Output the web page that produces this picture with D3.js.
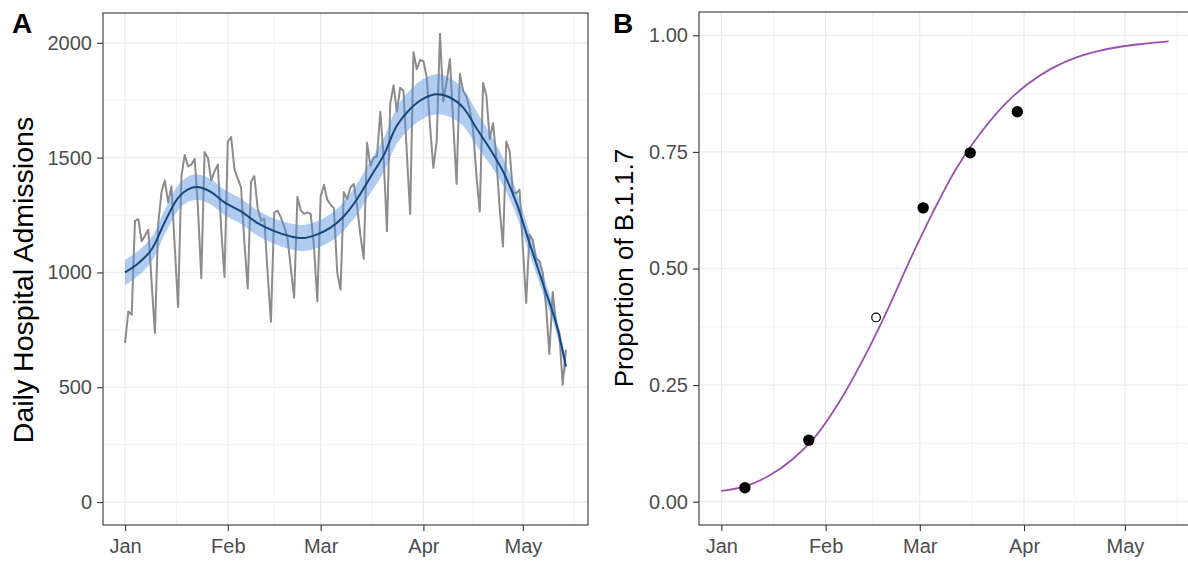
<!DOCTYPE html>
<html>
<head>
<meta charset="utf-8">
<script src="https://cdn.jsdelivr.net/npm/d3@7"></script>
<style>
  body { margin: 0; background: #fff; }
  svg { display: block; font-family: "Liberation Sans", Arial, Helvetica, sans-serif; }
</style>
</head>
<body>
<svg id="chart" width="1188" height="562"></svg>
<script>
// Panel A: daily hospital admissions, one value per day starting 1 Jan 2021
const startDate = "2021-01-01";
const admissions = [
  693, 830, 816, 1225, 1232, 1135, 1160, 1186, 960, 736,
  1210, 1350, 1400, 1305, 1375, 1110, 850, 1418, 1512, 1462,
  1470, 1495, 1280, 975, 1525, 1500, 1400, 1440, 1470, 1190,
  980, 1570, 1590, 1450, 1410, 1370, 1130, 930, 1395, 1420,
  1280, 1225, 1235, 1000, 785, 1260, 1270, 1240, 1200, 1150,
  1020, 890, 1330, 1270, 1255, 1262, 1255, 1110, 875, 1330,
  1382, 1317, 1295, 1280, 1000, 925, 1350, 1320, 1370, 1385,
  1290, 1160, 1060, 1565, 1465, 1500, 1505, 1700, 1500, 1180,
  1735, 1815, 1700, 1805, 1790, 1520, 1255, 1960, 1885, 1925,
  1920, 1850, 1640, 1455, 1570, 2040, 1745, 1830, 1930, 1650,
  1385, 1865, 1790, 1765, 1710, 1620, 1420, 1265, 1825, 1770,
  1580, 1650, 1500, 1280, 1113, 1570, 1530, 1350, 1345, 1360,
  1110, 867, 1165, 1140, 1060, 1050, 1000, 850, 645, 915,
  780, 737, 511, 664
];

// smoothed trend with its confidence band (day offsets from startDate)
const smoothDays = [0, 4, 8, 12, 16, 19, 22, 26, 30, 35, 40, 45, 50, 54, 58, 62, 66, 70, 74, 78, 82, 86, 90, 94, 98, 102, 106, 110, 114, 118, 122, 126, 130, 133];
const smoothFit = [1000, 1040, 1100, 1220, 1325, 1362, 1372, 1350, 1305, 1266, 1215, 1180, 1157, 1150, 1166, 1195, 1245, 1320, 1415, 1510, 1640, 1712, 1757, 1776, 1762, 1718, 1628, 1540, 1440, 1305, 1128, 954, 780, 591];
const smoothLo = [945, 986, 1047, 1166, 1270, 1307, 1317, 1295, 1250, 1211, 1160, 1125, 1101, 1093, 1108, 1135, 1183, 1254, 1345, 1436, 1560, 1628, 1671, 1689, 1677, 1638, 1553, 1472, 1380, 1251, 1080, 912, 744, 561];
const smoothHi = [1055, 1094, 1153, 1274, 1380, 1417, 1427, 1405, 1360, 1321, 1270, 1235, 1213, 1207, 1224, 1255, 1307, 1386, 1485, 1584, 1720, 1796, 1843, 1863, 1847, 1798, 1703, 1608, 1500, 1359, 1176, 996, 816, 621];

// Panel B: sampled proportion of B.1.1.7 and fitted logistic curve
const seqDates = ["2021-01-08", "2021-01-27", "2021-02-16", "2021-03-02", "2021-03-16", "2021-03-30"];
const seqProp = [0.030, 0.132, 0.395, 0.630, 0.748, 0.836];
const seqFilled = [true, true, false, true, true, true];
const curveDays = [0, 7, 14, 21, 28, 35, 42, 49, 56, 63, 70, 77, 84, 91, 98, 105, 112, 119, 126, 133];
const curveProp = [0.023, 0.033, 0.055, 0.09, 0.14, 0.213, 0.303, 0.405, 0.517, 0.622, 0.716, 0.79, 0.85, 0.895, 0.928, 0.951, 0.966, 0.976, 0.982, 0.987];

const monthTicks = ["2021-01-01", "2021-02-01", "2021-03-01", "2021-04-01", "2021-05-01"];
const monthMinor = ["2021-01-16T12:00", "2021-02-15", "2021-03-16T12:00", "2021-04-16", "2021-05-16T12:00"];
const ticksA = [0, 500, 1000, 1500, 2000];
const minorA = [250, 750, 1250, 1750];
const ticksB = [0, 0.25, 0.5, 0.75, 1];
const minorB = [0.125, 0.375, 0.625, 0.875];

const parse = s => new Date(s + (s.length > 10 ? "Z" : "T00:00Z"));
const t0 = parse(startDate);
const dayDate = d => new Date(t0.getTime() + d * 864e5);

const svg = d3.select("#chart");
const gridCol = "#ebebeb";
const textCol = "#4d4d4d";
const frameCol = "#333333";

// ggplot-like 5% expansion of the date range
const dateExtent = [dayDate(0), dayDate(admissions.length - 1)];
const span = dateExtent[1] - dateExtent[0];
const xDomain = [new Date(+dateExtent[0] - span * 0.05), new Date(+dateExtent[1] + span * 0.05)];

function panel(box, y, yTicks, yMinor, yFmt, title, tag) {
  const x = d3.scaleUtc().domain(xDomain).range([box.left, box.right]);
  const g = svg.append("g");

  // minor + major grid
  g.selectAll("line.minx").data(monthMinor.map(parse)).join("line")
    .attr("x1", d => x(d)).attr("x2", d => x(d))
    .attr("y1", box.top).attr("y2", box.bottom)
    .attr("stroke", gridCol).attr("stroke-width", 0.6);
  g.selectAll("line.miny").data(yMinor).join("line")
    .attr("x1", box.left).attr("x2", box.right)
    .attr("y1", d => y(d)).attr("y2", d => y(d))
    .attr("stroke", gridCol).attr("stroke-width", 0.6);
  g.selectAll("line.majx").data(monthTicks.map(parse)).join("line")
    .attr("x1", d => x(d)).attr("x2", d => x(d))
    .attr("y1", box.top).attr("y2", box.bottom)
    .attr("stroke", gridCol).attr("stroke-width", 1.2);
  g.selectAll("line.majy").data(yTicks).join("line")
    .attr("x1", box.left).attr("x2", box.right)
    .attr("y1", d => y(d)).attr("y2", d => y(d))
    .attr("stroke", gridCol).attr("stroke-width", 1.2);

  // axes
  const xAxis = d3.axisBottom(x).tickValues(monthTicks.map(parse))
    .tickFormat(d3.utcFormat("%b")).tickSize(6).tickPadding(8);
  const gx = svg.append("g").attr("transform", `translate(0,${box.bottom})`).call(xAxis);
  const yAxis = d3.axisLeft(y).tickValues(yTicks).tickFormat(yFmt).tickSize(6).tickPadding(5);
  const gy = svg.append("g").attr("transform", `translate(${box.left},0)`).call(yAxis);
  [gx, gy].forEach(a => {
    a.select(".domain").remove();
    a.selectAll(".tick line").attr("stroke", frameCol).attr("stroke-width", 1.1);
    a.selectAll(".tick text").attr("fill", textCol).style("font-size", "20px");
  });

  svg.append("text")
    .attr("transform", `translate(${box.titleX},${box.titleY}) rotate(-90)`)
    .attr("text-anchor", "middle")
    .style("font-size", box.titleSize + "px").attr("fill", "#000")
    .text(title);
  svg.append("text")
    .attr("x", box.tagX).attr("y", 33)
    .style("font-size", "28px").style("font-weight", "bold")
    .text(tag);

  return { x, g };
}

function frame(box) {
  svg.append("rect")
    .attr("x", box.left).attr("y", box.top)
    .attr("width", box.right - box.left).attr("height", box.bottom - box.top)
    .attr("fill", "none").attr("stroke", frameCol).attr("stroke-width", 1.1);
}

// ---- Panel A ----
const boxA = { left: 103, right: 588, top: 13, bottom: 525, titleX: 33, titleY: 280, titleSize: 28.5, tagX: 12 };
const yA = d3.scaleLinear().domain([-100, 2130]).range([boxA.bottom, boxA.top]);
const pA = panel(boxA, yA, ticksA, minorA, d3.format("d"), "Daily Hospital Admissions", "A");
const xA = pA.x;

pA.g.append("path")
  .datum(admissions)
  .attr("fill", "none").attr("stroke", "#8c8c8c").attr("stroke-width", 2)
  .attr("stroke-linejoin", "round")
  .attr("d", d3.line().x((d, i) => xA(dayDate(i))).y(d => yA(d)));

pA.g.append("path")
  .datum(smoothDays.map((d, i) => ({ d, lo: smoothLo[i], hi: smoothHi[i] })))
  .attr("fill", "#4f8de0").attr("fill-opacity", 0.45)
  .attr("d", d3.area().curve(d3.curveCatmullRom)
    .x(p => xA(dayDate(p.d))).y0(p => yA(p.lo)).y1(p => yA(p.hi)));

pA.g.append("path")
  .datum(smoothDays.map((d, i) => ({ d, v: smoothFit[i] })))
  .attr("fill", "none").attr("stroke", "#17467c").attr("stroke-width", 2)
  .attr("d", d3.line().curve(d3.curveCatmullRom)
    .x(p => xA(dayDate(p.d))).y(p => yA(p.v)));
frame(boxA);

// ---- Panel B ----
const boxB = { left: 699, right: 1191, top: 12, bottom: 525, titleX: 633, titleY: 268, titleSize: 26, tagX: 613 };
const yB = d3.scaleLinear().domain([-0.05, 1.05]).range([boxB.bottom, boxB.top]);
const pB = panel(boxB, yB, ticksB, minorB, d3.format(".2f"), "Proportion of B.1.1.7", "B");
const xB = pB.x;

pB.g.append("path")
  .datum(curveDays.map((d, i) => ({ d, v: curveProp[i] })))
  .attr("fill", "none").attr("stroke", "#9b4fb0").attr("stroke-width", 1.8)
  .attr("d", d3.line().curve(d3.curveCatmullRom)
    .x(p => xB(dayDate(p.d))).y(p => yB(p.v)));

pB.g.selectAll("circle.pt")
  .data(seqDates.map((s, i) => ({ t: parse(s), v: seqProp[i], f: seqFilled[i] })))
  .join("circle")
  .attr("cx", p => xB(p.t)).attr("cy", p => yB(p.v))
  .attr("r", p => p.f ? 5.7 : 4.3)
  .attr("fill", p => p.f ? "#000" : "#fff")
  .attr("stroke", "#000").attr("stroke-width", p => p.f ? 0 : 1.2);
frame(boxB);
</script>
</body>
</html>
